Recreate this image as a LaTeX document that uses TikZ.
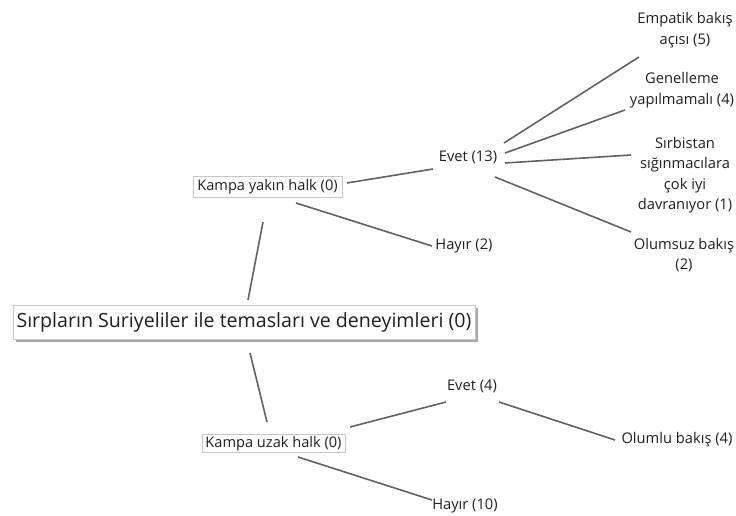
\documentclass[tikz,border=0pt]{standalone}
\usepackage{fontspec}
\setmainfont{Open Sans}
\begin{document}
\begin{tikzpicture}[x=1pt,y=-1pt,
  every node/.style={text=black!88, inner sep=0pt},
  leaf/.style={font=\fontsize{14.7}{20.4}\selectfont, align=center},
  codebox/.style={font=\fontsize{14.6}{16}\selectfont, draw=black!22, fill=white,
    line width=0.9pt, inner xsep=3pt, minimum height=21pt},
  rootbox/.style={font=\fontsize{19.6}{22}\selectfont, draw=black!22, fill=white,
    line width=0.9pt, inner xsep=3pt, minimum height=34pt},
  link/.style={draw=black!62, line width=1.6pt}]
\useasboundingbox (0,0) rectangle (736,516);

% shadow of the root box
\fill[black!35] (16,308) rectangle (478,342);

% nodes
\node[rootbox, minimum width=462pt] (root) at (244,322) {Sırpların Suriyeliler ile temasları ve deneyimleri (0)};
\node[codebox, minimum width=149pt] (near) at (267.5,186.5) {Kampa yakın halk (0)};
\node[codebox, minimum width=143pt, minimum height=18pt] (far) at (273.5,443.5) {Kampa uzak halk (0)};

\node[leaf] (yes13) at (468,157) {Evet (13)};
\node[leaf] (no2) at (464,246) {Hayır (2)};
\node[leaf] (empathy) at (685,30) {Empatik bakış\\açısı (5)};
\node[leaf] (general) at (682,90) {Genelleme\\yapılmamalı (4)};
\node[leaf] (serbia) at (685,175) {Sırbistan\\sığınmacılara\\çok iyi\\davranıyor (1)};
\node[leaf] (negative) at (684,255) {Olumsuz bakış\\(2)};

\node[leaf] (yes4) at (472,386) {Evet (4)};
\node[leaf] (positive) at (677,440) {Olumlu bakış (4)};
\node[leaf] (no10) at (465,506) {Hayır (10)};

% connectors
\draw[link] ([shift={(4,-22)}]root.center) -- ([shift={(-4.5,35.5)}]near.center);
\draw[link] ([shift={(6,31)}]root.center) -- ([shift={(-6.5,-21.5)}]far.center);

\draw[link] ([shift={(79.5,-3.5)}]near.center) -- ([shift={(-35,12)}]yes13.center);
\draw[link] ([shift={(28.5,16.5)}]near.center) -- ([shift={(-32,0)}]no2.center);

\draw[link] ([shift={(36,-14)}]yes13.center) -- ([shift={(-46,27)}]empathy.center);
\draw[link] ([shift={(37,-4)}]yes13.center) -- ([shift={(-57,20)}]general.center);
\draw[link] ([shift={(37,6)}]yes13.center) -- ([shift={(-54,-20)}]serbia.center);
\draw[link] ([shift={(27,20)}]yes13.center) -- ([shift={(-53,-23)}]negative.center);

\draw[link] ([shift={(76.5,-16.5)}]far.center) -- ([shift={(-26,16)}]yes4.center);
\draw[link] ([shift={(27,16)}]yes4.center) -- ([shift={(-62,0)}]positive.center);
\draw[link] ([shift={(24.5,13.5)}]far.center) -- ([shift={(-33,-6)}]no10.center);
\end{tikzpicture}
\end{document}
